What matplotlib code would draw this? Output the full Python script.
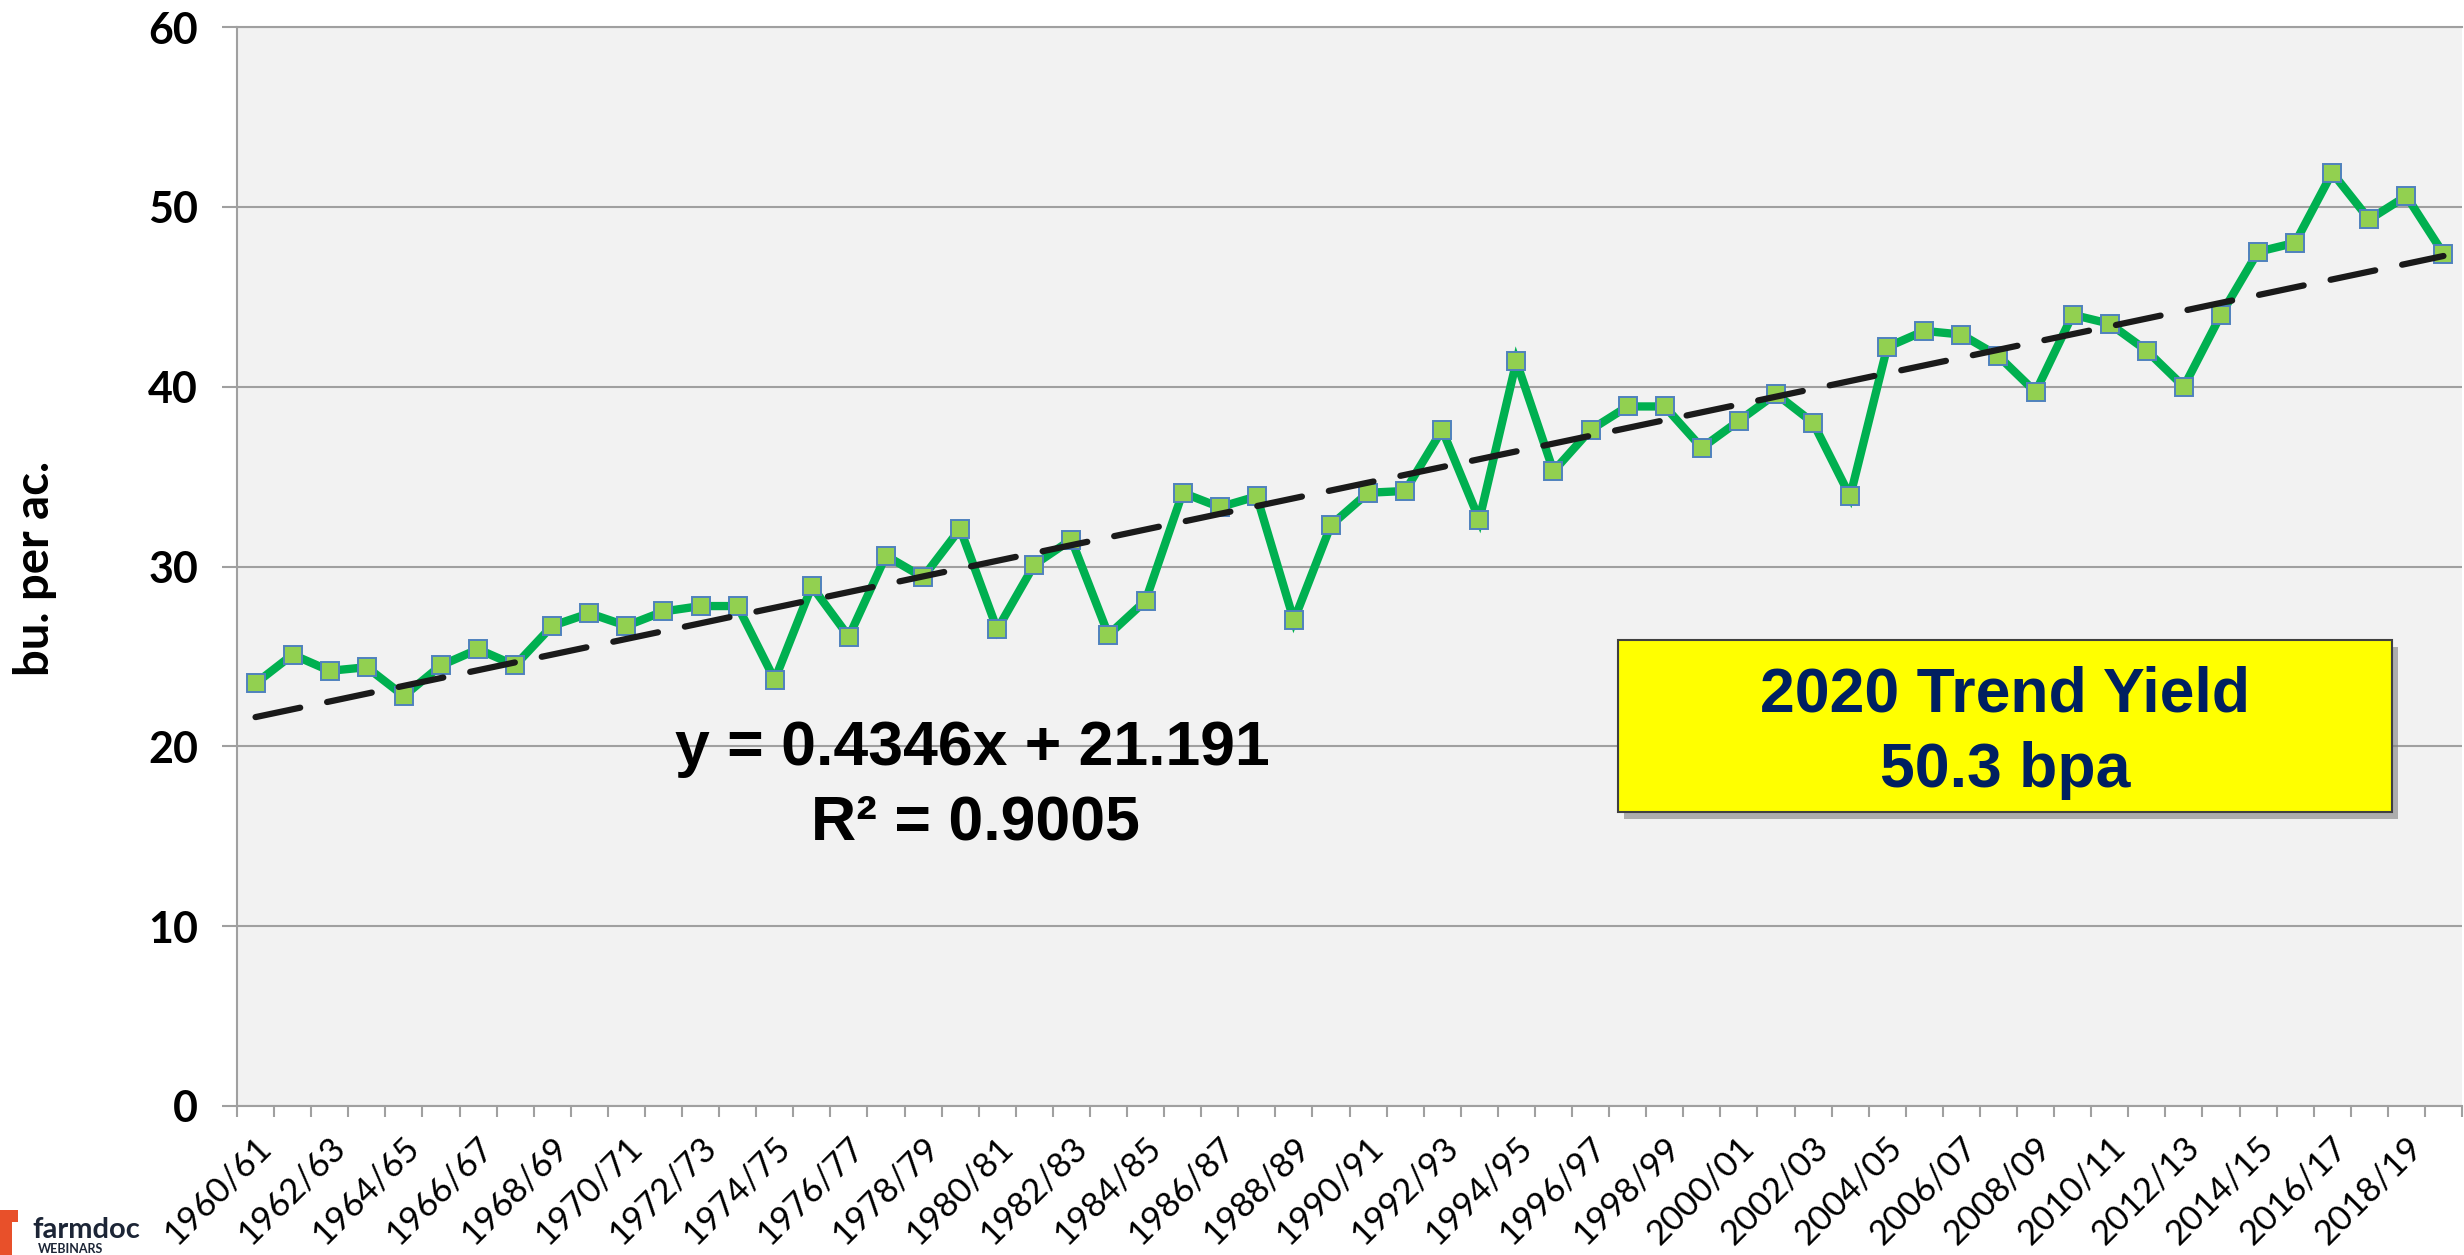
import matplotlib
matplotlib.use("Agg")
import matplotlib.pyplot as plt
import matplotlib.patches as mpatches
import matplotlib.patheffects as pe
import matplotlib.transforms as mtransforms

# ---- data ----
seasons = [f"{y}/{str(y + 1)[-2:]}" for y in range(1960, 2020)]
yields = [23.5, 25.1, 24.2, 24.4, 22.8, 24.5, 25.4, 24.5, 26.7, 27.4,
          26.7, 27.5, 27.8, 27.8, 23.7, 28.9, 26.1, 30.6, 29.4, 32.1,
          26.5, 30.1, 31.5, 26.2, 28.1, 34.1, 33.3, 33.9, 27.0, 32.3,
          34.1, 34.2, 37.6, 32.6, 41.4, 35.3, 37.6, 38.9, 38.9, 36.6,
          38.1, 39.6, 38.0, 33.9, 42.2, 43.1, 42.9, 41.7, 39.7, 44.0,
          43.5, 42.0, 40.0, 44.0, 47.5, 48.0, 51.9, 49.3, 50.6, 47.4]
trend_slope = 0.4346
trend_intercept = 21.191
r_squared = 0.9005
trend_2020 = 50.3
y_ticks = [0, 10, 20, 30, 40, 50, 60]

W, H = 2464, 1255
fig = plt.figure(figsize=(W / 100, H / 100), dpi=100)
fig.patch.set_facecolor("white")


def fx(x):
    return x / W


def fy(y):
    return 1 - y / H


ax = fig.add_axes([fx(237), fy(1106), (2462 - 237) / W, (1106 - 27) / H])
ax.set_facecolor("#F2F2F2")

n = len(yields)
xs = list(range(n))
ax.plot(xs, yields, color="#00B050", lw=6, marker="s", ms=13,
        mfc="#92D050", mec="#4F81BD", mew=1.4, zorder=3,
        solid_joinstyle="miter")

trend_x = [0, n - 1]
trend_y = [trend_intercept + trend_slope * (i + 1) for i in trend_x]
ax.plot(trend_x, trend_y, color="#1A1A1A", lw=4.5, dashes=(7.3, 4.4),
        dash_capstyle="round", zorder=4)

ax.set_xlim(-0.5, n - 0.5)
ax.set_ylim(0, 60)

grid_c = "#A0A0A0"
ax.set_yticks(y_ticks)
ax.yaxis.grid(True, color=grid_c, lw=1.5, zorder=0)
ax.set_axisbelow(True)
ax.tick_params(axis="y", length=11, width=1.5, color=grid_c, pad=17)
for lab in ax.get_yticklabels():
    lab.set_fontfamily("Lato")
    lab.set_fontweight("bold")
    lab.set_fontsize(31)

# x: tick marks at category boundaries, labels every 2nd category
ax.set_xticks([i - 0.5 for i in range(n + 1)], minor=True)
ax.set_xticks(xs[::2])
ax.set_xticklabels(seasons[::2], rotation=45, ha="right", va="center",
                   rotation_mode="anchor", fontfamily="Lato", fontsize=25)
ax.tick_params(axis="x", which="major", length=0, pad=26)
ax.tick_params(axis="x", which="minor", length=8, width=1.5, color=grid_c)
offset = mtransforms.ScaledTranslation(10 / 100, 0, fig.dpi_scale_trans)
for lab in ax.get_xticklabels():
    lab.set_transform(lab.get_transform() + offset)

for s in ["right"]:
    ax.spines[s].set_visible(False)
for s in ["left", "bottom", "top"]:
    ax.spines[s].set_color(grid_c)
    ax.spines[s].set_linewidth(1.5)

fig.text(fx(35), fy(568), "bu. per ac.", rotation=90, ha="center",
         va="center", fontfamily="Lato", fontweight="bold", fontsize=34)

# regression equation
fig.text(fx(972), fy(765), f"y = {trend_slope}x + {trend_intercept}",
         ha="center", va="baseline", fontfamily="Liberation Sans",
         fontweight="bold", fontsize=45)
fig.text(fx(975), fy(839), f"R² = {r_squared}",
         ha="center", va="baseline", fontfamily="Liberation Sans",
         fontweight="bold", fontsize=45)

# yellow box
box = mpatches.Rectangle((fx(1618), fy(812)), fx(2392) - fx(1618),
                         fy(640) - fy(812), transform=fig.transFigure,
                         facecolor="#FFFF00", edgecolor="#404040", lw=1.5,
                         zorder=5)
box.set_path_effects([pe.SimplePatchShadow(offset=(4, -5), shadow_rgbFace="#7F7F7F",
                                           alpha=0.6), pe.Normal()])
fig.patches.append(box)
fig.text(fx(2005), fy(711), "2020 Trend Yield", ha="center", va="baseline",
         fontfamily="Liberation Sans", fontweight="bold", fontsize=45,
         color="#002060", zorder=6)
fig.text(fx(2005), fy(787), f"{trend_2020} bpa", ha="center", va="baseline",
         fontfamily="Liberation Sans", fontweight="bold", fontsize=45,
         color="#002060", zorder=6)

# logo
fig.patches.append(mpatches.Rectangle((0, fy(1255)), fx(12), fy(1210) - fy(1255),
                                      transform=fig.transFigure,
                                      facecolor="#E8502A", edgecolor="none"))
fig.patches.append(mpatches.Rectangle((0, fy(1222)), fx(18), fy(1210) - fy(1222),
                                      transform=fig.transFigure,
                                      facecolor="#E8502A", edgecolor="none"))
fig.text(fx(32), fy(1238), "farmdoc", ha="left", va="baseline",
         fontfamily="Lato", fontweight="bold", fontsize=21, color="#1C2536")
fig.text(fx(38), fy(1253), "WEBINARS", ha="left", va="baseline",
         fontfamily="Lato", fontweight="bold", fontsize=9, color="#1C2536")

fig.savefig("out.png", dpi=100, facecolor="white")
